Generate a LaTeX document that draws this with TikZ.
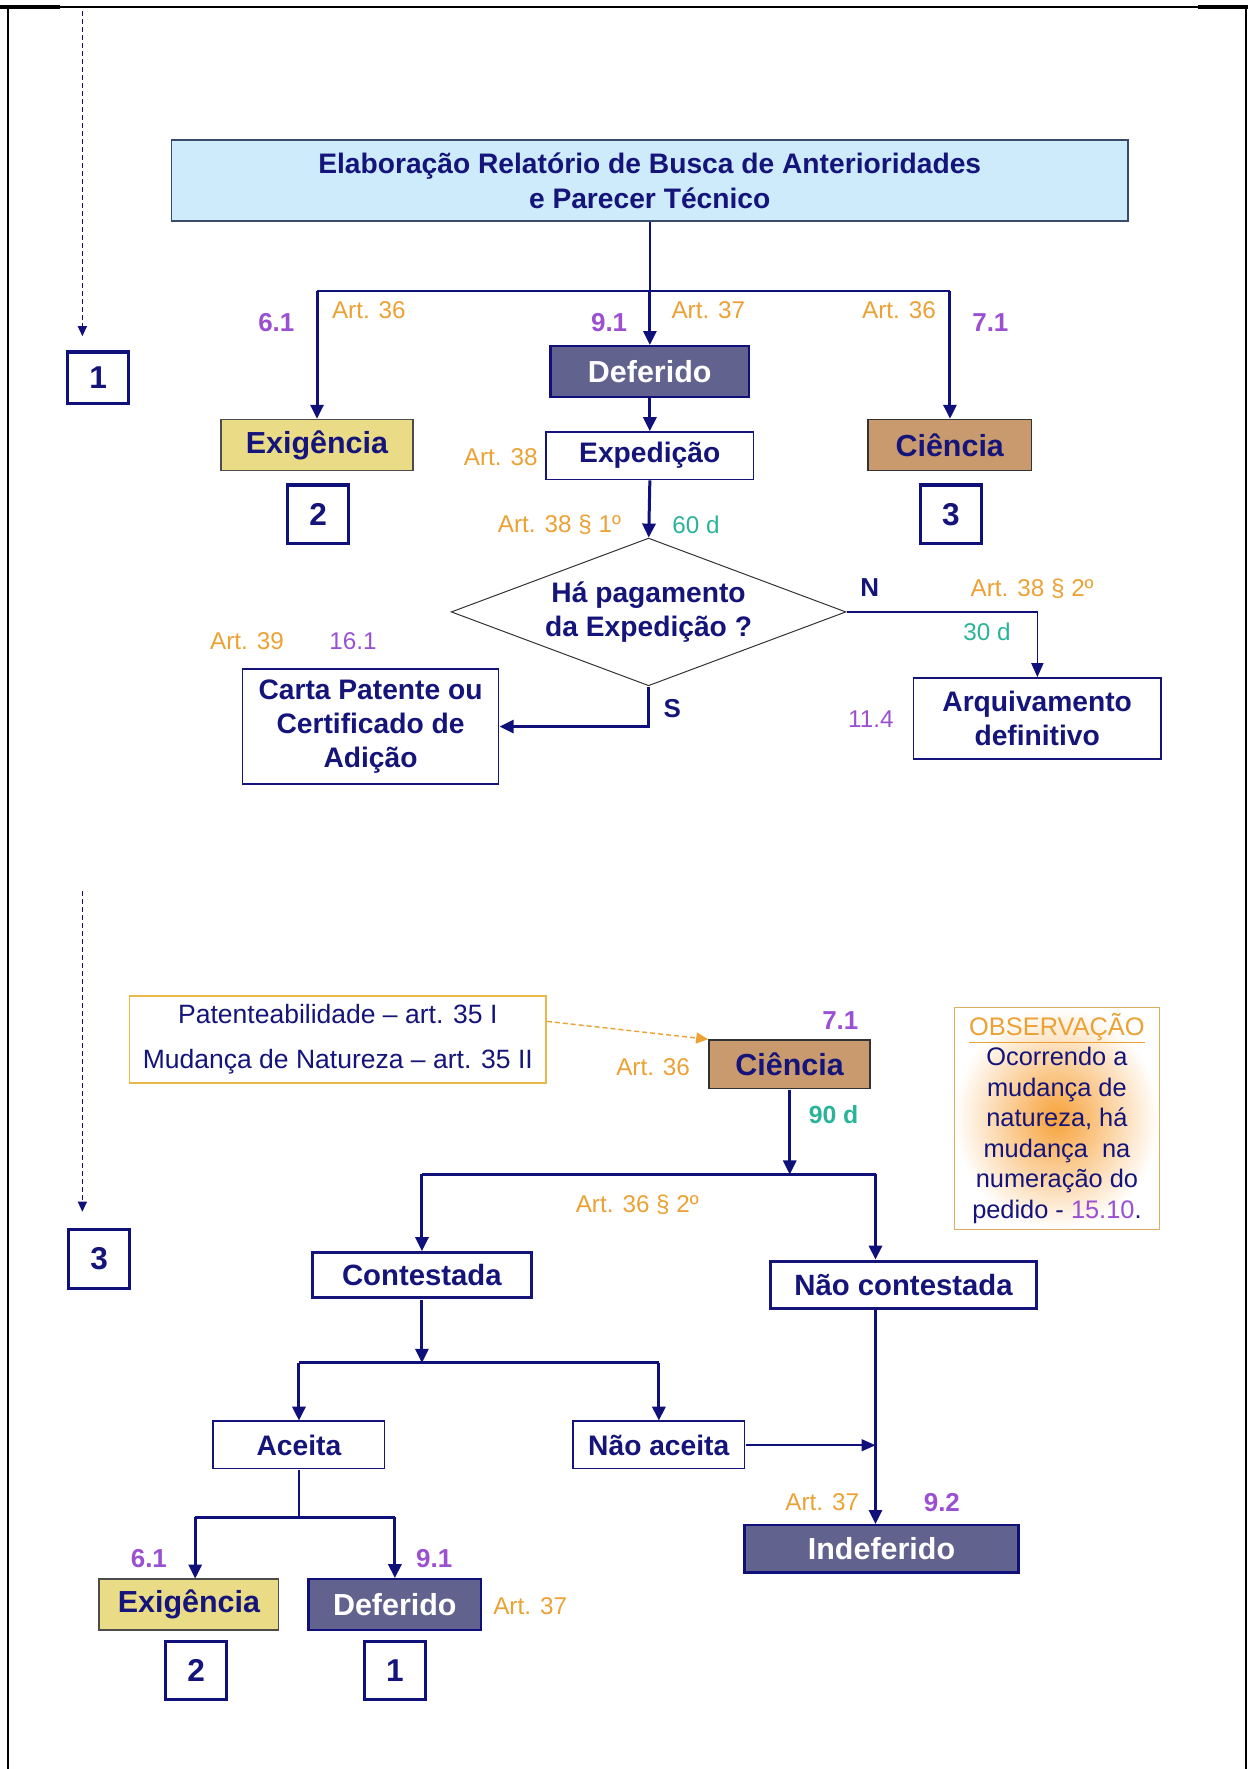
\documentclass[tikz,border=0pt]{standalone}
\usepackage{fontspec}
\setmainfont{Liberation Sans}
\usetikzlibrary{arrows.meta,shapes.geometric}
\definecolor{navy}{HTML}{14147A}
\definecolor{linec}{HTML}{10107A}
\definecolor{artc}{HTML}{EBA134}
\definecolor{purp}{HTML}{9B4FD1}
\definecolor{tealc}{HTML}{2BB39A}
\definecolor{topc}{HTML}{CDEBFA}
\definecolor{topd}{HTML}{3A4A6A}
\definecolor{defc}{HTML}{62628F}
\definecolor{exc}{HTML}{EADB86}
\definecolor{cic}{HTML}{C99A6E}
\definecolor{patd}{HTML}{E8B84A}
\definecolor{obsd}{HTML}{D8B060}
\definecolor{obsin}{HTML}{F7A23A}
\begin{document}
\begin{tikzpicture}[x=1pt,y=-1pt,scale=1.128,every node/.append style={transform shape},
  fbold/.style={font=\bfseries\fontsize{25}{30}\selectfont},
  box/.style={draw=navy, line width=1.6pt, fill=white, inner sep=0pt, fbold, text=navy, align=center},
  thickbox/.style={box, line width=3pt, font=\bfseries\fontsize{26}{30}\selectfont},
  hd/.style={font=\bfseries\fontsize{27}{30}\selectfont},
  defst/.style={box, hd, fill=defc, draw=linec, line width=2.4pt, text=white},
  exst/.style={box, hd, fill=exc, draw=black!70, line width=1.6pt, text=navy},
  cist/.style={box, hd, fill=cic, draw=black!80, line width=1.6pt, text=navy},
  numbox/.style={draw=linec, line width=3.2pt, fill=white, inner sep=0pt, font=\bfseries\fontsize{28}{28}\selectfont, text=navy, minimum width=54, minimum height=52},
  art/.style={text=artc, font=\fontsize{21.5}{21.5}\selectfont, inner sep=0pt},
  num/.style={text=purp, font=\bfseries\fontsize{23}{23}\selectfont, inner sep=0pt},
  numr/.style={text=purp, font=\fontsize{21.5}{21.5}\selectfont, inner sep=0pt},
  days/.style={text=tealc, font=\fontsize{21.5}{21.5}\selectfont, inner sep=0pt},
  daysb/.style={text=tealc, font=\bfseries\fontsize{22}{22}\selectfont, inner sep=0pt},
  lettr/.style={text=navy, font=\bfseries\fontsize{23}{23}\selectfont, inner sep=0pt},
  flow/.style={draw=linec, line width=3pt, -{Triangle[length=14pt,width=13pt]}},
  thinflow/.style={draw=linec, line width=1.6pt, -{Triangle[length=14pt,width=12pt]}},
  mid/.style={draw=linec, line width=3pt},
  thinline/.style={draw=linec, line width=1.7pt},
  dashline/.style={draw=linec, line width=1.3pt, dash pattern=on 5pt off 3pt, -{Triangle[length=10pt,width=9pt]}},
  orangedash/.style={draw=artc, line width=1.4pt, dash pattern=on 5pt off 3pt, -{Triangle[length=12pt,width=11pt]}}
]
\useasboundingbox (0,0) rectangle (1106.4,1568.3);
% frame
\draw[line width=1.8pt] (7.1,1568.3) -- (7.1,6.2) -- (1104.6,6.2) -- (1104.6,1568.3);
\draw[line width=3.2pt] (0,6.2) -- (53,6.2);
\draw[line width=3.2pt] (1062,6.2) -- (1106.4,6.2);

% ---------------- top section ----------------
\coordinate (d1a) at (73,10);
\coordinate (d1b) at (73,298);
\draw[dashline] (d1a) -- (d1b);
\node[numbox, minimum height=46] (n1a) at (87,335) {1};

\node[draw=topd, line width=1.7pt, fill=topc, inner sep=0pt, minimum width=848, minimum height=72,
      text=navy, align=center, font=\bfseries\fontsize{25}{31}\selectfont] (top) at (576,160)
      {Elaboração Relatório de Busca de Anterioridades\\e Parecer Técnico};

\node[defst, minimum width=176, minimum height=45] (def1) at (576,329.5) {Deferido};
\node[exst, minimum width=170, minimum height=45] (exig1) at (281,394.5) {Exigência};
\node[cist, minimum width=145, minimum height=45] (cien1) at (842,394.5) {Ciência};
\node[numbox] (n2a) at (282,456) {2};
\node[numbox] (n3a) at (843,456) {3};
\node[box, minimum width=184, minimum height=42] (exped) at (576,404) {Expedição};
\node[diamond, draw=black!80, line width=1pt, aspect=2.67, inner sep=0pt, minimum width=350,
      minimum height=131, fbold, text=navy, align=center, fill=white] (diam) at (575,542.5)
      {Há pagamento\\da Expedição ?};
\node[box, minimum width=219, minimum height=72] (arq) at (919.5,637) {Arquivamento\\definitivo};
\node[box, minimum width=227, minimum height=102] (carta) at (328.5,644) {Carta Patente ou\\Certificado de\\Adição};

\coordinate (bl) at (281,258);
\coordinate (br) at (842,258);
\coordinate (bm) at (576,258);
\draw[thinline] (top.south) -- (bm);
\draw[thinline] (bl) -- (br);
\draw[flow] (bm) -- (def1.north);
\draw[flow] (bl) -- (exig1.north);
\draw[flow] (br) -- (cien1.north);
\draw[flow] (def1.south) -- (exped.north);
\draw[flow] (exped.south) -- (diam.north);
\draw[thinline, -{Triangle[length=14pt,width=12pt]}] (diam.east) -| (arq.north);
\draw[flow] (diam.south) |- (carta.east);

\node[num] (t61) at (245,286) {6.1};
\node[art] (ta36a) at (327,275) {Art. 36};
\node[num] (t91) at (540,286) {9.1};
\node[art] (ta37) at (628,275) {Art. 37};
\node[art] (ta36b) at (797,275) {Art. 36};
\node[num] (t71) at (878,286) {7.1};
\node[art] (ta38) at (444,405) {Art. 38};
\node[art] (ta381) at (496,465) {Art. 38 § 1º};
\node[days] (t60) at (617,465) {60 d};
\node[lettr] (tN) at (771,521) {N};
\node[art] (ta382) at (915,522) {Art. 38 § 2º};
\node[days] (t30) at (875,560) {30 d};
\node[lettr] (tS) at (596,628) {S};
\node[art] (ta39) at (219,568) {Art. 39};
\node[numr] (t161) at (313,568) {16.1};
\node[numr] (t114) at (772,638) {11.4};

% ---------------- bottom section ----------------
\coordinate (d2a) at (73,790);
\coordinate (d2b) at (73,1074);
\draw[dashline] (d2a) -- (d2b);
\node[numbox] (n3b) at (88,1116) {3};

\node[draw=patd, line width=1.4pt, fill=white, inner sep=0pt, minimum width=369, minimum height=77,
      text=navy, align=center, font=\fontsize{23.5}{40}\selectfont] (pat) at (299.5,921.5)
      {Patenteabilidade – art. 35 I\\Mudança de Natureza – art. 35 II};
\node[cist, minimum width=143, minimum height=43] (cien2) at (700,943.5) {Ciência};
\draw[orangedash] (pat.5) -- (cien2.north west);
\node[num] (t71b) at (745,905) {7.1};
\node[art] (ta36c) at (579,946) {Art. 36};
\node[daysb] (t90) at (739,988) {90 d};

\coordinate (bm2) at (700,1041);
\coordinate (bl2) at (374,1041);
\coordinate (br2) at (776,1041);
\draw[flow] (cien2.south) -- (bm2);
\draw[mid] (bl2) -- (br2);
\node[art] (ta362) at (565,1068) {Art. 36 § 2º};

\node[thickbox, minimum width=194, minimum height=40] (cont) at (374,1130.5) {Contestada};
\node[thickbox, minimum width=236, minimum height=42] (ncont) at (801,1139) {Não contestada};
\draw[flow] (bl2) -- (cont.north);
\draw[flow] (br2) -- (br2 |- ncont.north);

\coordinate (bm3) at (374,1208);
\coordinate (bl3) at (265,1208);
\coordinate (br3) at (584,1208);
\draw[flow] (cont.south) -- (bm3);
\draw[mid] (bl3) -- (br3);
\node[box, minimum width=152, minimum height=42] (aceita) at (265,1281) {Aceita};
\node[box, minimum width=152, minimum height=42] (naceita) at (584,1281) {Não aceita};
\draw[flow] (bl3) -- (aceita.north);
\draw[flow] (br3) -- (naceita.north);

\node[defst, minimum width=243, minimum height=42] (indef) at (781.5,1373) {Indeferido};
\draw[flow] (ncont.south -| br2) -- (indef.north -| br2);
\draw[thinflow] (naceita.east) -- (naceita.east -| br2);
\node[art] (ta37b) at (729,1332) {Art. 37};
\node[num] (t92) at (835,1332) {9.2};

\coordinate (bm4) at (265,1345);
\coordinate (bl4) at (173,1345);
\coordinate (br4) at (350,1345);
\draw[thinline] (aceita.south) -- (bm4);
\draw[mid] (bl4) -- (br4);
\node[exst, minimum width=159, minimum height=45] (exig2) at (167.5,1422.5) {Exigência};
\node[defst, minimum width=153, minimum height=45] (def2) at (350,1422.5) {Deferido};
\draw[flow] (bl4) -- (bl4 |- exig2.north);
\draw[flow] (br4) -- (def2.north);
\node[num] (t61b) at (132,1382) {6.1};
\node[num] (t91b) at (385,1382) {9.1};
\node[art] (ta37c) at (470,1424) {Art. 37};
\node[numbox] (n2b) at (174,1481) {2};
\node[numbox] (n1b) at (350,1481) {1};

\node[draw=obsd, line width=1.4pt, inner sep=0pt, minimum width=182, minimum height=197,
      shading=radial, inner color=obsin, outer color=white,
      text=navy, align=center, font=\fontsize{22.5}{27}\selectfont] (obs) at (937,991.5)
      {\textcolor{artc}{\underline{OBSERVAÇÃO}}\\Ocorrendo a\\mudança de\\natureza, há\\mudança\ \ na\\numeração do\\pedido - \textcolor{purp}{15.10}.};
\end{tikzpicture}
\end{document}
